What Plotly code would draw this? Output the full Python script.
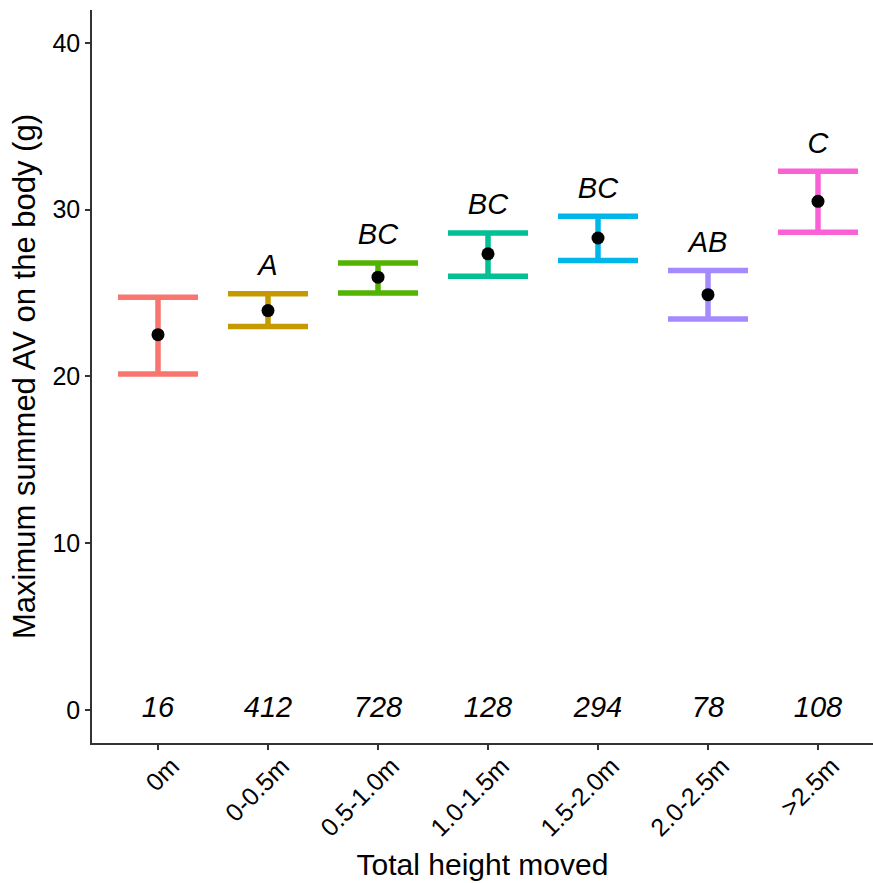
import plotly.graph_objects as go

categories = ["0m", "0-0.5m", "0.5-1.0m", "1.0-1.5m", "1.5-2.0m", "2.0-2.5m", ">2.5m"]
means = [22.5, 23.95, 25.95, 27.35, 28.3, 24.9, 30.5]
upper = [24.75, 24.95, 26.8, 28.6, 29.6, 26.35, 32.3]
lower = [20.15, 23.0, 25.0, 26.0, 26.95, 23.45, 28.65]
letters = ["", "A", "BC", "BC", "BC", "AB", "C"]
counts = ["16", "412", "728", "128", "294", "78", "108"]
colors = ["#F8766D", "#C49A00", "#53B400", "#00C094", "#00B6EB", "#A58AFF", "#FB61D7"]

FONT = "Liberation Sans, Arial, sans-serif"
fig = go.Figure()

for i, cat in enumerate(categories):
    fig.add_trace(go.Scatter(
        x=[cat], y=[means[i]], mode="markers",
        marker=dict(size=1, color="rgba(0,0,0,0)"),
        error_y=dict(type="data", symmetric=False,
                     array=[upper[i] - means[i]], arrayminus=[means[i] - lower[i]],
                     color=colors[i], thickness=5.5, width=40),
        showlegend=False, hoverinfo="skip"))

fig.add_trace(go.Scatter(
    x=categories, y=means, mode="markers",
    marker=dict(size=13, color="black"), showlegend=False))

label_offset = 1.55
fig.add_trace(go.Scatter(
    x=categories, y=[u + label_offset for u in upper], mode="text",
    text=letters, textposition="middle center",
    textfont=dict(family=FONT, size=29, color="black", style="italic"),
    showlegend=False, hoverinfo="skip"))

fig.add_trace(go.Scatter(
    x=categories, y=[0] * len(categories), mode="text",
    text=counts, textposition="middle center",
    textfont=dict(family=FONT, size=29, color="black", style="italic"),
    showlegend=False, hoverinfo="skip"))

fig.update_layout(
    width=873, height=883,
    margin=dict(l=92, r=0, t=10, b=140),
    paper_bgcolor="white", plot_bgcolor="white",
    font=dict(family=FONT, color="black"),
)
fig.update_xaxes(
    type="category", categoryorder="array", categoryarray=categories,
    range=[-0.6, 6.5],
    showline=True, linecolor="#333333", linewidth=1.6,
    ticks="outside", ticklen=5, tickwidth=1.6, tickcolor="#333333",
    tickangle=-45, tickfont=dict(size=25, color="black"),
    ticklabelshift=14, ticklabelstandoff=-8,
    showgrid=False, zeroline=False,
    title=dict(text="Total height moved", font=dict(size=30, color="black"), standoff=14),
)
fig.update_yaxes(
    range=[-1.98, 41.97], tickvals=[0, 10, 20, 30, 40],
    showline=True, linecolor="#333333", linewidth=1.6,
    ticks="outside", ticklen=5, tickwidth=1.6, tickcolor="#333333",
    tickfont=dict(size=25, color="black"),
    showgrid=False, zeroline=False,
    title=dict(text="Maximum summed AV on the body (g)", font=dict(size=31, color="black"), standoff=8),
)

fig.write_html("out.html")
